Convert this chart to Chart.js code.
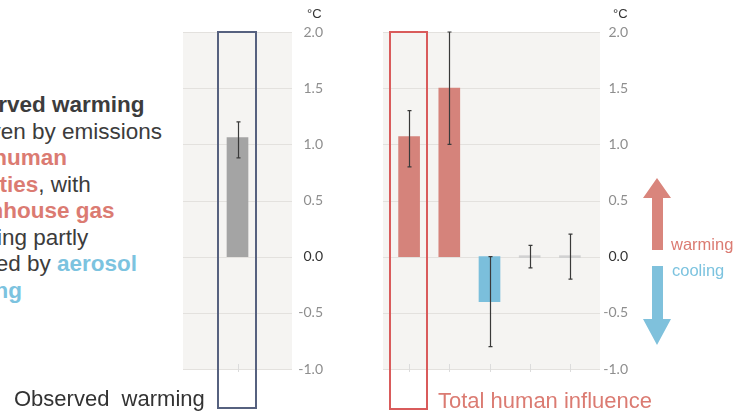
<!DOCTYPE html>
<html>
<head>
<meta charset="utf-8">
<script src="https://cdn.jsdelivr.net/npm/chart.js@4/dist/chart.umd.min.js"></script>
<style>
body { margin: 0; width: 736px; height: 411px; overflow: hidden; background: #fff; position: relative; font-family: "Liberation Sans", Arial, sans-serif; }
.abs { position: absolute; white-space: pre; }
canvas { position: absolute; }
.red { color: #db7b72; }
.blue { color: #7cc3df; }
</style>
</head>
<body>

<div class="abs" style="left:-58px;top:92px;font-size:22.5px;line-height:26.5px;color:#3c3c3c"><b>Observed warming</b>
is driven by emissions
from <b class="red">human</b>
<b class="red">activities</b>, with
<b class="red">greenhouse gas</b>
warming partly
masked by <b class="blue">aerosol</b>
<b class="blue">cooling</b></div>

<canvas id="obsChart" width="148" height="385" style="left:175px;top:0"></canvas>
<canvas id="contribChart" width="253" height="385" style="left:375px;top:0"></canvas>

<div class="abs" style="left:307px;top:6px;font-size:13px;line-height:16px;color:#333">°C</div>
<div class="abs" style="left:613px;top:6px;font-size:13px;line-height:16px;color:#333">°C</div>

<div class="abs" style="left:217px;top:31px;width:40px;height:378px;box-sizing:border-box;border:2px solid #56617f"></div>
<div class="abs" style="left:389px;top:31px;width:39px;height:379px;box-sizing:border-box;border:2px solid #d95b5b"></div>

<svg class="abs" width="736" height="411" style="left:0;top:0">
  <polygon points="652,250 663,250 663,198 671,198 657,178 643,198 652,198" fill="#d9857c"/>
  <polygon points="652,266 663,266 663,319 671,319 657,345 643,319 652,319" fill="#7fc1dc"/>
</svg>
<div class="abs red" style="left:671px;top:234px;font-size:16.5px;line-height:20px">warming</div>
<div class="abs blue" style="left:672px;top:260px;font-size:16.5px;line-height:20px">cooling</div>

<div class="abs" style="left:14px;top:388px;font-size:22px;line-height:22px;color:#333">Observed  warming</div>
<div class="abs red" style="left:438px;top:390px;font-size:22px;line-height:22px">Total human influence</div>

<script>
// observed warming 2010-2019 vs 1850-1900
const obsLabels = ['Observed warming']
const obsValues = [1.06]
const obsLow = [0.88]
const obsHigh = [1.2]

// contributions
const contribLabels = ['Total human influence', 'Well-mixed greenhouse gases', 'Other human drivers', 'Solar and volcanic drivers', 'Internal variability']
const contribValues = [1.07, 1.5, -0.4, 0, 0]
const contribLow = [0.8, 1.0, -0.8, -0.1, -0.2]
const contribHigh = [1.3, 2.0, 0.0, 0.1, 0.2]
const contribColors = ['#d5837b', '#d5837b', '#7bbfdc', '#d2d2d2', '#d2d2d2']

const yTicks = [-1, -0.5, 0, 0.5, 1, 1.5, 2]

// grey panel, gridlines, little ticks and the error bars
const panelPlugin = {
    id: 'panel',
    beforeDraw(chart, args, opts) {
        const ctx = chart.ctx
        const a = chart.chartArea
        const y = chart.scales.y
        const l = a.left - opts.padL, r = a.right + opts.padR
        ctx.save()
        ctx.fillStyle = '#f5f4f2'
        ctx.fillRect(l, a.top, r - l, a.bottom - a.top)
        ctx.strokeStyle = '#e3e1de'
        ctx.lineWidth = 1
        y.ticks.forEach(t => {
            const py = Math.round(y.getPixelForValue(t.value)) + 0.5
            ctx.beginPath(); ctx.moveTo(l, py); ctx.lineTo(r, py); ctx.stroke()
        })
        ctx.strokeStyle = '#dcdcdc'
        chart.getDatasetMeta(0).data.forEach(el => {
            const px = Math.round(el.x) + 0.5
            ctx.beginPath(); ctx.moveTo(px, a.bottom - 5); ctx.lineTo(px, a.bottom + 3); ctx.stroke()
        })
        ctx.restore()
    },
    afterDatasetsDraw(chart, args, opts) {
        const ctx = chart.ctx
        const y = chart.scales.y
        ctx.save()
        ctx.strokeStyle = '#3a3a3a'
        ctx.lineWidth = 1.2
        chart.getDatasetMeta(0).data.forEach((el, i) => {
            const px = Math.round(el.x) + 0.5
            const y1 = y.getPixelForValue(opts.low[i]), y2 = y.getPixelForValue(opts.high[i])
            ctx.beginPath()
            ctx.moveTo(px, y1); ctx.lineTo(px, y2)
            ctx.moveTo(px - 2, y1); ctx.lineTo(px + 2, y1)
            ctx.moveTo(px - 2, y2); ctx.lineTo(px + 2, y2)
            ctx.stroke()
        })
        ctx.restore()
    }
}

const makeChart = (id, labels, values, colors, low, high, axisW, padL, padR, leftPad) => {
    return new Chart(document.getElementById(id), {
        type: 'bar',
        data: {
            labels: labels,
            datasets: [{ data: values, backgroundColor: colors, barThickness: 21, minBarLength: 2 }]
        },
        options: {
            responsive: false,
            animation: false,
            layout: { padding: { left: leftPad, top: 32, bottom: 16, right: 0 } },
            plugins: {
                legend: { display: false },
                tooltip: { enabled: false },
                panel: { low: low, high: high, padL: padL, padR: padR }
            },
            scales: {
                x: { display: false },
                y: {
                    position: 'right',
                    min: -1,
                    max: 2,
                    grid: { display: false },
                    border: { display: false },
                    afterBuildTicks: s => { s.ticks = yTicks.map(v => ({ value: v })) },
                    afterFit: s => { s.width = axisW },
                    ticks: {
                        crossAlign: 'far',
                        font: { family: 'Lato', size: 14 },
                        color: c => c.tick.value === 0 ? '#333' : '#8e8e8e',
                        callback: v => v.toFixed(1)
                    }
                }
            }
        },
        plugins: [panelPlugin]
    })
}

makeChart('obsChart', obsLabels, obsValues, '#a4a4a4', obsLow, obsHigh, 31, 0, 0, 8)
makeChart('contribChart', contribLabels, contribValues, contribColors, contribLow, contribHigh, 38, 6, 10, 14)
</script>
</body>
</html>
